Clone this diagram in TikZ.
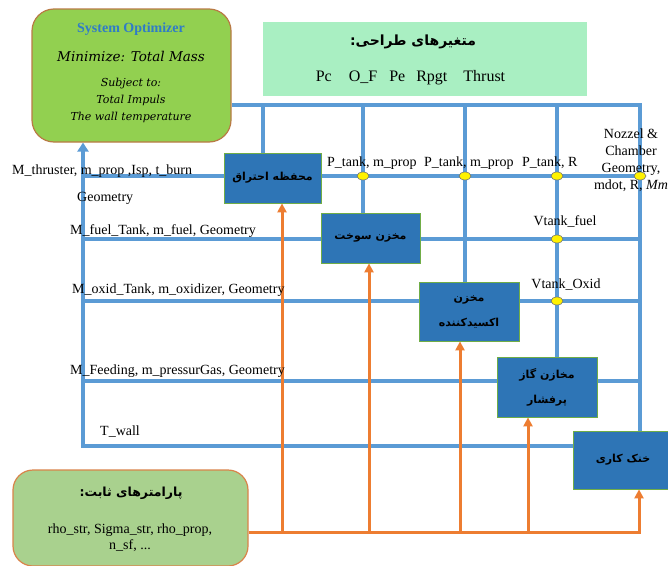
\documentclass[tikz,border=0pt]{standalone}
\usepackage{fontspec}
\setmainfont{Liberation Serif}
\newfontfamily\fafont[Script=Arabic]{DejaVu Sans}
\newfontfamily\optfont{DejaVu Serif}
\TeXXeTstate=1
\usetikzlibrary{arrows.meta, positioning, shapes.geometric, backgrounds, calc}

\definecolor{optgreen}{HTML}{92D050}
\definecolor{optedge}{HTML}{B97A45}
\definecolor{varsgreen}{HTML}{A9EFC2}
\definecolor{fixgreen}{HTML}{A9D18E}
\definecolor{fixedge}{HTML}{D9834A}
\definecolor{boxblue}{HTML}{2E75B6}
\definecolor{boxedge}{HTML}{70AD47}
\definecolor{busblue}{HTML}{5B9BD5}
\definecolor{feedorange}{HTML}{ED7D31}
\definecolor{titleblue}{HTML}{2F7BC8}

\tikzset{
    unitbox/.style={draw=boxedge, fill=boxblue, line width=0.8pt, align=center,
        font=\fafont\bfseries\fontsize{11}{25}\selectfont, inner sep=0pt},
    busline/.style={draw=busblue, line width=4pt},
    feedline/.style={draw=feedorange, line width=3pt},
    feedarrow/.style={feedline, -{Triangle[width=9pt,length=9pt]}},
    junction/.style={ellipse, draw=black!55, fill=yellow, line width=0.6pt,
        minimum width=12pt, minimum height=8pt, inner sep=0pt},
    varlabel/.style={font=\fontsize{14}{17}\selectfont, inner sep=0pt},
}

\begin{document}
\begin{tikzpicture}[x=1pt, y=-1pt]
    \useasboundingbox (0,0) rectangle (668,565);

    % optimizer and design variables
    \node[draw=optedge, fill=optgreen, rounded corners=22pt, line width=1.2pt,
        minimum width=199pt, minimum height=133pt] (opt) at (131.5,75.5) {};
    \node[font=\bfseries\fontsize{14}{16}\selectfont, text=titleblue] (opttitle) at (131,29) {System Optimizer};
    \node[font=\optfont\itshape\fontsize{13.5}{16}\selectfont] (optgoal) at (131,57) {Minimize: Total Mass};
    \node[font=\optfont\itshape\fontsize{11}{17}\selectfont, align=center] (optcons) at (131,100)
        {Subject to:\\Total Impuls\\The wall temperature};

    \node[fill=varsgreen, minimum width=324pt, minimum height=74pt] (vars) at (425,59) {};
    \node[font=\fafont\bfseries\fontsize{14}{18}\selectfont] (varstitle) at (413,42) {\beginR متغیرهای طراحی:\endR};
    \node[font=\fontsize{16}{18}\selectfont] (varslist) at (410.5,78)
        {Pc\hspace{17pt}O\_F\hspace{12pt}Pe\hspace{11pt}Rpgt\hspace{16pt}Thrust};

    % subsystem boxes
    \node[unitbox, minimum width=97pt, minimum height=50pt] (comb) at (272.5,178) {\beginR محفظه احتراق\endR};
    \node[unitbox, minimum width=99pt, minimum height=50pt] (fuel) at (370.5,238) {\beginR مخزن سوخت\endR};
    \node[unitbox, minimum width=100pt, minimum height=59pt] (oxid) at (469,311.5)
        {\beginR مخزن\endR\\\beginR اکسیدکننده\endR};
    \node[unitbox, minimum width=100pt, minimum height=60pt] (gas) at (547,387)
        {\beginR مخازن گاز\endR\\\beginR پرفشار\endR};
    \node[unitbox, minimum width=100pt, minimum height=58pt] (cool) at (623,460) {\beginR خنک کاری\endR};

    % fixed parameters
    \node[fill=fixgreen, draw=fixedge, rounded corners=20pt, line width=1.2pt,
        minimum width=235pt, minimum height=96pt] (fixed) at (130.5,518) {};
    \node[font=\fafont\bfseries\fontsize{12.5}{16}\selectfont] (fixtitle) at (131,493) {\beginR پارامترهای ثابت:\endR};
    \node[varlabel, align=center, font=\fontsize{14}{16}\selectfont] (fixlist) at (130,538)
        {rho\_str, Sigma\_str, rho\_prop,\\n\_sf, ...};

    % bus points
    \coordinate (topR) at (640,105);
    \coordinate (v1) at (263,105);
    \coordinate (v2) at (363,105);
    \coordinate (v3) at (465,105);
    \coordinate (v4) at (557,105);
    \coordinate (r1) at (83,176);
    \coordinate (r2) at (83,239);
    \coordinate (r3) at (83,301);
    \coordinate (r4) at (83,381);
    \coordinate (tw) at (83,446);
    \coordinate (fb) at (639,532);
    \coordinate (f1) at (282,532);
    \coordinate (f2) at (369,532);
    \coordinate (f3) at (460,532);
    \coordinate (f4) at (528,532);

    \begin{pgfonlayer}{background}
        \draw[busline] (opt.east |- topR) -- (topR) -- (topR |- cool.north);
        \draw[busline] (v1) -- (v1 |- comb.north);
        \draw[busline] (v2) -- (v2 |- fuel.north);
        \draw[busline] (v3) -- (v3 |- oxid.north);
        \draw[busline] (v4) -- (v4 |- gas.north);
        \draw[busline, -{Triangle[width=11pt,length=9pt]}] (cool.west |- tw) -- (tw) -- (tw |- opt.south);
        \draw[busline] (r1) -- (r1 -| comb.west);
        \draw[busline] (r1 -| comb.east) -- (r1 -| topR);
        \draw[busline] (r2) -- (r2 -| fuel.west);
        \draw[busline] (r2 -| fuel.east) -- (r2 -| topR);
        \draw[busline] (r3) -- (r3 -| oxid.west);
        \draw[busline] (r3 -| oxid.east) -- (r3 -| topR);
        \draw[busline] (r4) -- (r4 -| gas.west);
        \draw[busline] (r4 -| gas.east) -- (r4 -| topR);
        % fixed parameters feed
        \draw[feedarrow] (fixed.east |- fb) -- (fb) -- (fb |- cool.south);
        \draw[feedarrow] (f1) -- (f1 |- comb.south);
        \draw[feedarrow] (f2) -- (f2 |- fuel.south);
        \draw[feedarrow] (f3) -- (f3 |- oxid.south);
        \draw[feedarrow] (f4) -- (f4 |- gas.south);
    \end{pgfonlayer}

    \node[junction] (j1) at (v2 |- r1) {};
    \node[junction] (j2) at (v3 |- r1) {};
    \node[junction] (j3) at (v4 |- r1) {};
    \node[junction] (j4) at (topR |- r1) {};
    \node[junction] (j5) at (v4 |- r2) {};
    \node[junction] (j6) at (v4 |- r3) {};

    % exchanged variables
    \node[varlabel, anchor=west] (lthr) at (12,171) {M\_thruster, m\_prop ,Isp, t\_burn};
    \node[varlabel, anchor=west] (lgeo) at (77,198) {Geometry};
    \node[varlabel, anchor=west] (lfuel) at (70,231) {M\_fuel\_Tank, m\_fuel, Geometry};
    \node[varlabel, anchor=west] (loxid) at (72,290) {M\_oxid\_Tank, m\_oxidizer, Geometry};
    \node[varlabel, anchor=west] (lfeed) at (70,371) {M\_Feeding, m\_pressurGas, Geometry};
    \node[varlabel, anchor=west] (lwall) at (100,432) {T\_wall};
    \node[varlabel, anchor=west] (lpt1) at (327,163) {P\_tank, m\_prop};
    \node[varlabel, anchor=west] (lpt2) at (424,163) {P\_tank, m\_prop};
    \node[varlabel, anchor=west] (lpt3) at (522,163) {P\_tank, R};
    \node[varlabel, align=center] (lnoz) at (631,160) {Nozzel \&\\Chamber\\Geometry,\\mdot, R, \textit{Mm}};
    \node[varlabel] (lvf) at (565,221) {Vtank\_fuel};
    \node[varlabel] (lvo) at (566,285) {Vtank\_Oxid};
\end{tikzpicture}
\end{document}
